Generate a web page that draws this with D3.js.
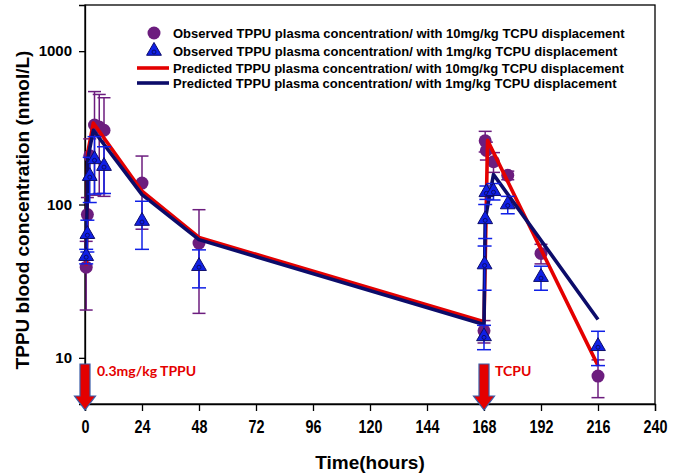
<!DOCTYPE html>
<html><head><meta charset="utf-8">
<script src="https://cdn.jsdelivr.net/npm/d3@7"></script>
<style>body{margin:0;background:#fff}svg{display:block}</style>
</head><body>
<svg id="chart" width="690" height="476"></svg>
<script>
// ---- data ----
const xTicks = [0, 24, 48, 72, 96, 120, 144, 168, 192, 216, 240];
const yTicks = [10, 100, 1000];

const obs10T  = [0.5, 1, 2, 4, 6, 8, 24, 48, 168, 168.5, 169, 172, 178, 192, 216];
const obs10V  = [39, 86, 208, 330, 320, 305, 138, 56, 15, 260, 225, 190, 155, 48, 7.6];
const obs10SD = [18.5, 25, 60, 215, 202, 192, 69, 36.5, 2.5, 40, 30, 28, 10, 7, 2.1];

const obs1T  = [0.5, 1, 2, 4, 8, 24, 48, 168, 168.25, 168.5, 169, 172, 178, 192, 216];
const obs1V  = [46, 64, 153, 197, 178, 78, 39.6, 13.8, 40.6, 80, 120, 122, 100, 33.6, 11.9];
const obs1SD = [5, 15, 50, 80, 60, 27, 11, 2.5, 13, 20, 12, 15, 13, 6, 3];

const pred10T = [0.5, 1.2, 3.5, 24, 48, 168, 169.5, 216];
const pred10V = [40, 220, 340, 122, 61, 17.2, 262, 8.9];
const pred1T  = [0.5, 1.2, 3.5, 24, 48, 168, 168.5, 172, 216];
const pred1V  = [43, 200, 305, 116, 59, 16.5, 80, 157, 17.8];

const doseTimes = [0, 168];
const doseLabels = ["0.3mg/kg TPPU", "TCPU"];

const legendLabels = [
  "Observed TPPU plasma concentration/ with 10mg/kg TCPU displacement",
  "Observed TPPU plasma concentration/ with 1mg/kg TCPU displacement",
  "Predicted TPPU plasma concentration/ with 10mg/kg TCPU displacement",
  "Predicted TPPU plasma concentration/ with 1mg/kg TCPU displacement"
];

// ---- styles ----
const PURPLE = "#6C1D7E", BLUE = "#1020E6", NAVY = "#0C0C6A", RED = "#E40000";
const svg = d3.select("#chart");
const L = 85, R = 655, T = 5, B = 404;
const x = d3.scaleLinear().domain([0, 240]).range([L, R]);
const y = d3.scaleLog().domain([5, 2000]).range([B, T]);

// frame
svg.append("rect").attr("x", L).attr("y", T).attr("width", R - L).attr("height", B - T)
  .attr("fill", "none").attr("stroke", "#000").attr("stroke-width", 1.3);

// axes
const xAxis = svg.append("g").attr("transform", `translate(0,${B})`)
  .call(d3.axisBottom(x).tickValues(xTicks).tickSize(7).tickPadding(10).tickFormat(d3.format("d")));
xAxis.select(".domain").attr("stroke-width", 1.3);
xAxis.selectAll(".tick line").attr("stroke-width", 1.3);
xAxis.selectAll(".tick text")
  .attr("font-family", "'Liberation Sans',Arial,sans-serif")
  .attr("font-weight", "bold").attr("font-size", 17.5).attr("fill", "#000")
  .attr("transform", "scale(0.82,1)");

const yAxis = svg.append("g").attr("transform", `translate(${L},0)`)
  .call(d3.axisLeft(y).tickValues(yTicks).tickSize(6).tickPadding(7).tickFormat(d3.format("d")));
yAxis.select(".domain").attr("stroke-width", 1.3);
yAxis.selectAll(".tick line").attr("stroke-width", 1.3);
yAxis.selectAll("text").attr("font-family", "'Liberation Sans',Arial,sans-serif")
  .attr("font-weight", "bold").attr("font-size", 15).attr("fill", "#000");

// axis titles
svg.append("text").attr("x", (L + R) / 2).attr("y", 469).attr("text-anchor", "middle")
  .attr("font-family", "'Liberation Sans',Arial,sans-serif")
  .attr("font-weight", "bold").attr("font-size", 19).text("Time(hours)");
svg.append("text").attr("transform", "translate(29,210) rotate(-90)").attr("text-anchor", "middle")
  .attr("font-family", "'Liberation Sans',Arial,sans-serif")
  .attr("font-weight", "bold").attr("font-size", 19).text("TPPU blood concentration (nmol/L)");

// helper for error bars
function errBars(T_, V_, SD_, color, cap) {
  const g = svg.append("g").attr("stroke", color).attr("stroke-width", 1.5).attr("fill", "none");
  T_.forEach((t, i) => {
    const lo = Math.max(V_[i] - SD_[i], 5.01), hi = V_[i] + SD_[i];
    const cx = x(t);
    g.append("line").attr("x1", cx).attr("x2", cx).attr("y1", y(lo)).attr("y2", y(hi));
    g.append("line").attr("x1", cx - cap).attr("x2", cx + cap).attr("y1", y(hi)).attr("y2", y(hi));
    if (V_[i] - SD_[i] > 5) g.append("line").attr("x1", cx - cap).attr("x2", cx + cap).attr("y1", y(lo)).attr("y2", y(lo));
  });
}

// purple error bars + circles
errBars(obs10T, obs10V, obs10SD, PURPLE, 6.5);
svg.append("g").selectAll("circle").data(obs10T).join("circle")
  .attr("cx", d => x(d)).attr("cy", (d, i) => y(obs10V[i])).attr("r", 6.5).attr("fill", PURPLE);

// predicted lines
const line = d3.line().x(d => x(d[0])).y(d => y(d[1]));
svg.append("path").datum(pred10T.map((t, i) => [t, pred10V[i]])).attr("d", line)
  .attr("fill", "none").attr("stroke", RED).attr("stroke-width", 3.6).attr("stroke-linejoin", "round");
svg.append("path").datum(pred1T.map((t, i) => [t, pred1V[i]])).attr("d", line)
  .attr("fill", "none").attr("stroke", NAVY).attr("stroke-width", 3.6).attr("stroke-linejoin", "round");

// blue error bars + triangles
errBars(obs1T, obs1V, obs1SD, BLUE, 7);
const tri = d3.symbol().type(d3.symbolTriangle).size(95);
const tg = svg.append("g");
obs1T.forEach((t, i) => {
  const gx = tg.append("g").attr("transform", `translate(${x(t)},${y(obs1V[i])})`);
  gx.append("path").attr("d", tri()).attr("fill", BLUE).attr("stroke", NAVY).attr("stroke-width", 1);
  gx.append("circle").attr("cy", 1).attr("r", 2).attr("fill", BLUE).attr("stroke", NAVY).attr("stroke-width", 1);
});

// dose arrows
doseTimes.forEach((t, i) => {
  const cx = x(t);
  const g = svg.append("g").attr("fill", RED).attr("stroke", "#3A5DA8").attr("stroke-width", 1.2);
  g.append("path").attr("d",
    `M${cx - 5},364 L${cx + 5},364 L${cx + 5},396 L${cx + 10.5},396 L${cx},410 L${cx - 10.5},396 L${cx - 5},396 Z`);
  svg.append("text").attr("x", cx + (i === 0 ? 12 : 11)).attr("y", 376)
    .attr("font-family", "Lato,'Liberation Sans',sans-serif").attr("font-weight", "bold")
    .attr("font-size", 14).attr("fill", RED).text(doseLabels[i]);
});

// legend
const legY = [33, 51, 68, 83];
const lg = svg.append("g");
legendLabels.forEach((lab, i) => {
  const yy = legY[i];
  if (i === 0) lg.append("circle").attr("cx", 154).attr("cy", yy).attr("r", 6.5).attr("fill", PURPLE);
  if (i === 1) {
    lg.append("path").attr("transform", `translate(154,${yy})`).attr("d", tri())
      .attr("fill", BLUE).attr("stroke", NAVY).attr("stroke-width", 1);
    lg.append("circle").attr("cx", 154).attr("cy", yy + 1).attr("r", 2).attr("fill", BLUE).attr("stroke", NAVY);
  }
  if (i >= 2) lg.append("line").attr("x1", 137).attr("x2", 169).attr("y1", yy).attr("y2", yy)
    .attr("stroke", i === 2 ? RED : NAVY).attr("stroke-width", 3.6);
  lg.append("text").attr("x", 173).attr("y", yy + 4.5)
    .attr("font-family", "'Liberation Sans',Arial,sans-serif").attr("font-weight", "bold")
    .attr("font-size", 13).attr("fill", "#000").text(lab);
});
</script>
</body></html>
